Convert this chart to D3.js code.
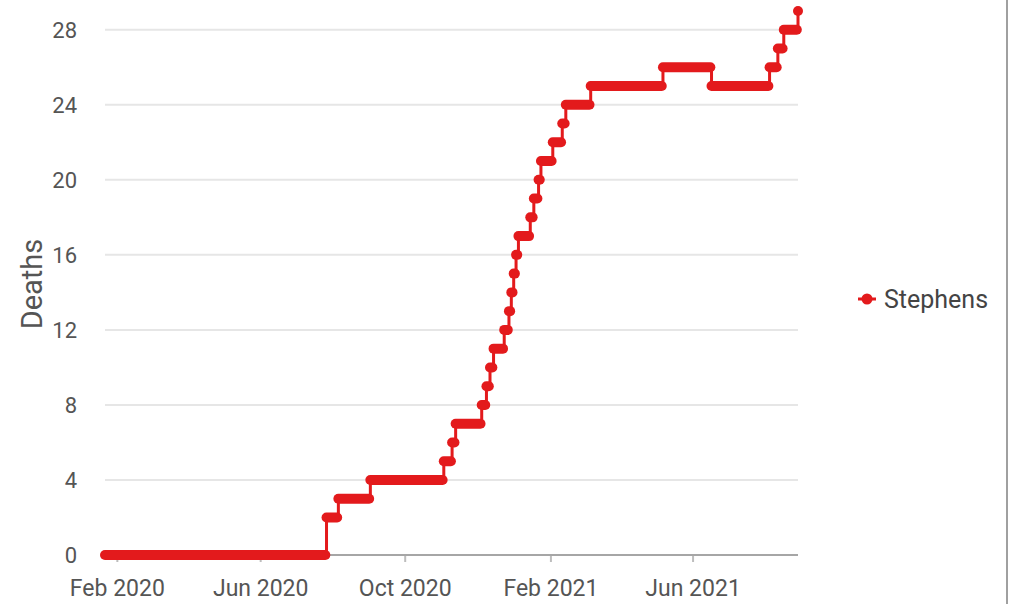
<!DOCTYPE html>
<html>
<head>
<meta charset="utf-8">
<script src="https://cdn.jsdelivr.net/npm/d3@7"></script>
<style>
	body { margin: 0; background: #fff; }
	svg { display: block; }
	.tick text { font-family: Roboto, sans-serif; font-size: 22px; fill: #555; }
</style>
</head>
<body>
<div id="chart"></div>
<script>
'use strict';

// date on which each new value starts, and the cumulative deaths from that day
var changeDates = [
	'2020-01-22', '2020-07-27', '2020-08-06', '2020-09-02', '2020-11-03',
	'2020-11-10', '2020-11-13', '2020-12-05', '2020-12-09', '2020-12-12',
	'2020-12-15', '2020-12-24', '2020-12-28', '2020-12-30', '2021-01-01',
	'2021-01-03', '2021-01-05', '2021-01-15', '2021-01-18', '2021-01-22',
	'2021-01-24', '2021-02-03', '2021-02-11', '2021-02-14', '2021-03-07',
	'2021-05-07', '2021-06-17', '2021-08-05', '2021-08-12', '2021-08-17',
	'2021-08-29'
];
var deaths = [
	0, 2, 3, 4, 5,
	6, 7, 8, 9, 10,
	11, 12, 13, 14, 15,
	16, 17, 18, 19, 20,
	21, 22, 23, 24, 25,
	26, 25, 26, 27, 28,
	29
];
var lastDate = '2021-08-29';
var countyName = 'Stephens';

var yTicks = [0, 4, 8, 12, 16, 20, 24, 28];
var xTicks = ['2020-02-01', '2020-06-01', '2020-10-01', '2021-02-01', '2021-06-01'];

var width = 1009,
		height = 604,
		margin = { top: 11, right: 211, bottom: 49, left: 105 };
var red = '#e31a1c';

var parse = d3.timeParse('%Y-%m-%d');
var dayMs = 864e5;

function makeRuns ()	{
	return changeDates.map(function (d, i)	{
		var start = parse(d),
				end = i < changeDates.length - 1 ?
					new Date(parse(changeDates[i + 1]) - dayMs) : parse(lastDate);
		return { start: start, end: end, value: deaths[i] };
	});
}

var runs = makeRuns();

var svg = d3.select('#chart').append('svg')
						.attr('width', width)
						.attr('height', height);

var x = d3.scaleTime()
					.domain([parse(changeDates[0]), parse(lastDate)])
					.range([margin.left, width - margin.right]);
var y = d3.scaleLinear()
					.domain([0, 29])
					.range([height - margin.bottom, margin.top]);

// grid
svg.append('g').selectAll('line')
	 .data(yTicks.slice(1))
	 .enter().append('line')
	 .attr('x1', x.range()[0]).attr('x2', x.range()[1])
	 .attr('y1', function (d) { return y(d); })
	 .attr('y2', function (d) { return y(d); })
	 .style('stroke', '#e6e6e6')
	 .style('stroke-width', 2);

// y axis (labels only)
var yAxis = svg.append('g')
							 .attr('transform', 'translate(' + (margin.left - 28) + ',0)')
							 .call(d3.axisLeft(y).tickValues(yTicks).tickSize(0).tickPadding(0));
yAxis.select('.domain').remove();
yAxis.selectAll('.tick text').attr('dy', '0.36em');

// x axis
var xAxis = svg.append('g')
							 .attr('transform', 'translate(0,' + y(0) + ')')
							 .call(d3.axisBottom(x)
							 				 .tickValues(xTicks.map(parse))
							 				 .tickFormat(d3.timeFormat('%b %Y'))
							 				 .tickSize(7)
							 				 .tickPadding(18));
xAxis.select('.domain').remove();
xAxis.append('line')
		 .attr('x1', x.range()[0] - 4).attr('x2', x.range()[1])
		 .style('stroke', '#a6a6a6').style('stroke-width', 2);
xAxis.selectAll('.tick line').style('stroke', '#bdbdbd').style('stroke-width', 2);
xAxis.selectAll('.tick text').style('font-size', '23px');

svg.append('text')
	 .attr('transform', 'translate(42,284) rotate(-90)')
	 .attr('text-anchor', 'middle')
	 .style('font-family', 'Roboto, sans-serif')
	 .style('font-size', '29px')
	 .style('fill', '#555')
	 .text('Deaths');

// step line
var stepPts = [];
runs.forEach(function (r)	{
	stepPts.push([x(r.start), y(r.value)]);
	stepPts.push([x(r.end), y(r.value)]);
});

svg.append('path')
	 .attr('d', d3.line().curve(d3.curveStepAfter)(stepPts))
	 .style('fill', 'none')
	 .style('stroke', red)
	 .style('stroke-width', 3);

// daily markers merge into a thick bar for each run
svg.append('g').selectAll('line')
	 .data(runs)
	 .enter().append('line')
	 .attr('x1', function (d) { return x(d.start); })
	 .attr('x2', function (d) { return x(d.end); })
	 .attr('y1', function (d) { return y(d.value); })
	 .attr('y2', function (d) { return y(d.value); })
	 .style('stroke', red)
	 .style('stroke-width', 10)
	 .style('stroke-linecap', 'round');

// legend
var lg = svg.append('g').attr('transform', 'translate(867,299)');
lg.append('line').attr('x1', -9).attr('x2', 9)
	.style('stroke', red).style('stroke-width', 3);
lg.append('circle').attr('r', 5.5).style('fill', red);
lg.append('text')
	.attr('x', 17).attr('dy', '0.35em')
	.style('font-family', 'Roboto, sans-serif')
	.style('font-size', '25px')
	.style('fill', '#444')
	.text(countyName);

// panel edge
svg.append('line')
	 .attr('x1', 1007).attr('x2', 1007)
	 .attr('y1', 0).attr('y2', height)
	 .style('stroke', '#a0a0a0')
	 .style('stroke-width', 2);
</script>
</body>
</html>
